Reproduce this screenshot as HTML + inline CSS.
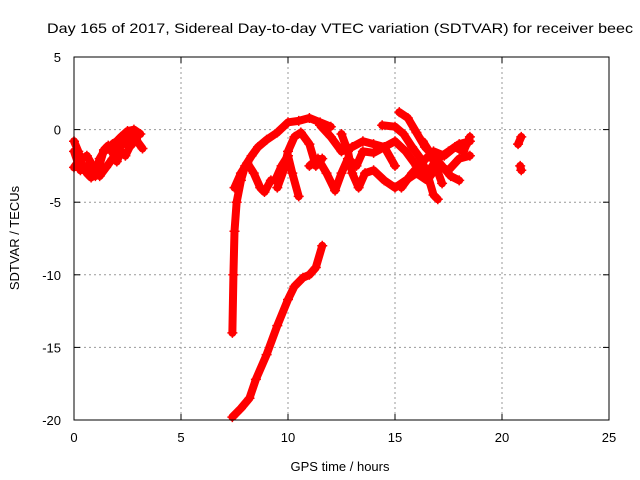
<!DOCTYPE html>
<html><head><meta charset="utf-8"><style>
body{margin:0;background:#fff}
svg{display:block;font-family:"Liberation Sans",sans-serif}
</style></head><body>
<svg id="chart" width="640" height="480">
<text x="47" y="33" font-size="14" textLength="586" lengthAdjust="spacingAndGlyphs">Day 165 of 2017, Sidereal Day-to-day VTEC variation (SDTVAR) for receiver beec</text>
<text x="340" y="471" font-size="13" text-anchor="middle">GPS time / hours</text>
<text transform="translate(19,238) rotate(-90)" font-size="13" text-anchor="middle">SDTVAR / TECUs</text>
<g id="grid"></g><g id="marks"></g>
<rect x="74" y="57" width="535" height="363" fill="none" stroke="#000" stroke-width="1"/>
</svg>
<script>
const xTicks=[0,5,10,15,20,25];
const yTicks=[5,0,-5,-10,-15,-20];
const trackA=[[0,-0.8],[0.2,-1.5],[0.4,-2.5],[0.6,-3],[0.8,-3.3],[1,-3],[1.2,-2],[1.4,-1.5],[1.6,-1.3],[1.8,-1],[2,-0.8],[2.2,-0.5],[2.5,-0.1],[2.8,0],[3.1,-0.3]];
const trackA2=[[0,-2.6],[0.2,-2.2],[0.4,-2],[0.6,-1.8],[0.8,-2.3],[1,-3.2],[1.2,-2.4],[1.4,-1.4],[1.6,-1.1],[1.8,-1.6],[2,-2.2],[2.2,-1.5],[2.4,-1.8],[2.6,-1.2],[2.9,-0.7],[3.2,-1.3]];
const trackA3=[[0,-1.5],[0.3,-2.8],[0.6,-2.5],[0.9,-2.8],[1.2,-3.2],[1.5,-2.6],[1.8,-2.0],[2.1,-1.2],[2.4,-0.9],[2.7,-0.5],[3,-0.4]];
const trackB=[[7.4,-14],[7.45,-10],[7.5,-7],[7.6,-5],[7.8,-3.5],[8,-2.5],[8.3,-1.8],[8.6,-1.2],[9,-0.7],[9.5,-0.2],[10,0.5],[10.5,0.6],[11,0.8],[11.5,0.5],[12,0.2]];
const trackC=[[7.5,-4],[7.8,-3],[8.1,-2.3],[8.4,-3],[8.7,-4],[8.9,-4.3],[9.2,-3.5],[9.4,-3.5],[9.7,-2.5],[10,-1.8],[10.2,-3],[10.5,-4.6]];
const trackD=[[9.5,-4],[9.8,-2.8],[10,-1.5],[10.3,-0.5],[10.6,-0.2],[11,-1],[11.3,-2.5],[11.6,-2]];
const trackLow=[[7.4,-19.8],[7.8,-19.2],[8.2,-18.5],[8.5,-17.2],[9,-15.5],[9.5,-13.5],[10,-11.7],[10.3,-10.8],[10.7,-10.2],[11,-10],[11.3,-9.5],[11.6,-8]];
const trackE=[[11.5,0.3],[12,-0.5],[12.5,-1.5],[13,-1.2],[13.5,-0.8],[14,-1],[14.5,-1.2],[15,-0.8],[15.5,-1.5],[16,-2.5],[16.5,-3],[17,-2],[17.5,-1.5],[18,-1],[18.5,-0.8]];
const trackF=[[11,-2.5],[11.4,-2],[11.8,-3],[12.2,-4.2],[12.5,-3],[12.8,-2],[13.2,-2.5],[13.5,-1.5],[14,-1.6],[14.5,-1.2],[15,-2.5]];
const trackG=[[12.5,-0.3],[12.8,-1.5],[13,-3],[13.3,-4],[13.6,-3],[14,-2.8],[14.5,-3.5],[15,-4],[15.5,-3.5],[16,-3],[16.5,-3.5],[17,-2.5],[17.5,-2.8],[18,-2],[18.5,-1.8]];
const trackH=[[14.4,0.3],[15,0.2],[15.4,-0.3],[15.8,-1.2],[16.2,-2],[16.5,-3],[16.8,-4.5],[17,-4.8]];
const trackI=[[15.2,1.2],[15.6,0.8],[16,-0.2],[16.4,-1.2],[16.8,-1.8],[17.2,-2.5],[17.6,-3.2],[18,-3.5]];
const trackJ=[[16.3,-0.8],[16.6,-1.5],[16.9,-2.5],[17.2,-3.7]];
const trackK=[[15.3,-4],[15.8,-3],[16.3,-2.2],[16.8,-1.5],[17.3,-1.8],[17.8,-1.2],[18.2,-1.5],[18.5,-0.5]];
const trackM=[[20.75,-1],[20.9,-0.5]];
const trackN=[[20.85,-2.5],[20.9,-2.8]];
const tracks=[trackA,trackA2,trackA3,trackB,trackC,trackD,trackLow,trackE,trackF,trackG,trackH,trackI,trackJ,trackK,trackM,trackN];
const X=t=>74+t*(535/25), Y=v=>57+(5-v)*(363/25);
const NS="http://www.w3.org/2000/svg";
const grid=document.getElementById('grid'), marks=document.getElementById('marks');
function mk(tag,a,p){const e=document.createElementNS(NS,tag);for(const k in a)e.setAttribute(k,a[k]);p.appendChild(e);return e;}
xTicks.forEach(t=>{
  if(t>0&&t<25){const g=mk('line',{x1:X(t),x2:X(t),y1:57,y2:420,stroke:'#999','stroke-dasharray':'2,3'},grid);
  
  }
  mk('line',{x1:X(t),x2:X(t),y1:420,y2:414,stroke:'#000'},grid);
  mk('line',{x1:X(t),x2:X(t),y1:57,y2:63,stroke:'#000'},grid);
  const l=mk('text',{x:X(t),y:442,'font-size':13,'text-anchor':'middle'},grid);l.textContent=t;
  
  
});
yTicks.forEach(v=>{
  if(v<5&&v>-20){const g=mk('line',{x1:74,x2:609,y1:Y(v),y2:Y(v),stroke:'#999','stroke-dasharray':'2,3'},grid);
  
  }
  mk('line',{x1:74,x2:80,y1:Y(v),y2:Y(v),stroke:'#000'},grid);
  mk('line',{x1:603,x2:609,y1:Y(v),y2:Y(v),stroke:'#000'},grid);
  const l=mk('text',{x:61,y:Y(v)+5,'font-size':13,'text-anchor':'end'},grid);l.textContent=v;
  
  
});
tracks.forEach(tr=>{
  const p=mk('polyline',{points:tr.map(d=>X(d[0])+','+Y(d[1])).join(' '),fill:'none',stroke:'#f00','stroke-width':8,'stroke-linejoin':'round','stroke-linecap':'round'},marks);
  
  
  tr.forEach(d=>{
    const x=X(d[0]),y=Y(d[1]);
    const m=mk('path',{d:`M${x-5},${y}H${x+5}M${x},${y-5}V${y+5}`,stroke:'#f00','stroke-width':1.5},marks);
    
    
  });
});
</script>
</body></html>
